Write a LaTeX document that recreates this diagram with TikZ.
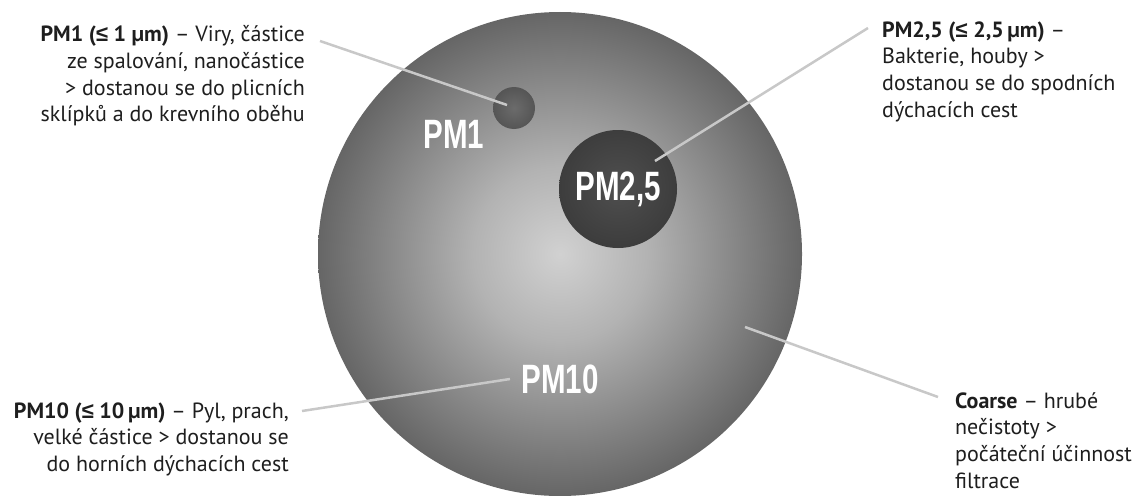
\documentclass[tikz,border=0pt]{standalone}
\usepackage{fontspec}
\usepackage{graphicx}
\setmainfont{PT Sans}
\newfontfamily\labfont{Liberation Sans}
\definecolor{txt}{HTML}{1E1E1E}
\definecolor{leadc}{HTML}{C8C8C8}
\pgfdeclareradialshading{bigball}{\pgfpoint{0bp}{0bp}}{rgb(0bp)=(0.82,0.82,0.82); rgb(9bp)=(0.70,0.70,0.70); rgb(17.5bp)=(0.54,0.54,0.54); rgb(26bp)=(0.38,0.38,0.38); rgb(35bp)=(0.25,0.25,0.25); rgb(100bp)=(0.24,0.24,0.24)}
\pgfdeclareradialshading{midball}{\pgfpoint{0bp}{1bp}}{rgb(0bp)=(0.31,0.31,0.31); rgb(35bp)=(0.21,0.21,0.21); rgb(100bp)=(0.21,0.21,0.21)}
\pgfdeclareradialshading{smallball}{\pgfpoint{0bp}{0bp}}{rgb(0bp)=(0.42,0.42,0.42); rgb(35bp)=(0.30,0.30,0.30); rgb(100bp)=(0.30,0.30,0.30)}
\tikzset{
  ball/.style={circle, inner sep=0pt, draw=none},
  pmlabel/.style={text=white, inner sep=0pt, font=\labfont\bfseries\fontsize{41}{41}\selectfont},
  leader/.style={draw=leadc, line width=2.5pt},
  desc/.style={inner sep=0pt, text=txt, font=\fontsize{22}{26.7}\selectfont},
}
\newcommand{\pmtxt}[1]{\scalebox{0.72}[1]{#1}}
\newcommand{\myleq}{{\labfont ≤}}
\begin{document}
\begin{tikzpicture}[x=1pt,y=-1pt]
\useasboundingbox (0,0) rectangle (1142,495);
% circles
\node[ball, minimum size=484pt, shading=bigball] (big) at (560,254) {};
\node[ball, minimum size=42pt, shading=smallball] (pm1c) at (514,108) {};
\node[ball, minimum size=118pt, shading=midball] (pm25c) at (618,189) {};
% circle labels
\node[pmlabel] (pm1l) at (454,134) {\pmtxt{PM1}};
\node[pmlabel] (pm25l) at (618,189) {\pmtxt{PM2,5}};
\node[pmlabel] (pm10l) at (560,379) {\pmtxt{PM10}};
% descriptions
\node[desc, anchor=north east, align=right] (d1) at (305,23) {\strut\textbf{PM1 (\myleq{} 1 µm)} – Viry, částice\\ze spalování, nanočástice\\> dostanou se do plicních\\sklípků a do krevního oběhu};
\node[desc, anchor=north west, align=left] (d25) at (882,18.3) {\strut\textbf{PM2,5 (\myleq{} 2,5\,µm)} –\\Bakterie, houby >\\dostanou se do spodních\\dýchacích cest};
\node[desc, anchor=north east, align=right] (d10) at (289,399.3) {\strut\textbf{PM10 (\myleq{} 10\,µm)} – Pyl, prach,\\velké částice > dostanou se\\do horních dýchacích cest};
\node[desc, anchor=north west, align=left] (dc) at (955,389.3) {\strut\textbf{Coarse} – hrubé\\nečistoty >\\počáteční účinnost\\filtrace};
% leader lines
\coordinate (a1) at (320,41);
\coordinate (b1) at (507,105);
\coordinate (a25) at (868,28);
\coordinate (b25) at (655,161);
\coordinate (a10) at (302,411);
\coordinate (b10) at (510,379);
\coordinate (ac) at (938,397);
\coordinate (bc) at (745,327);
\draw[leader] (a1) -- (b1);
\draw[leader] (a25) -- (b25);
\draw[leader] (a10) -- (b10);
\draw[leader] (ac) -- (bc);
\end{tikzpicture}
\end{document}
